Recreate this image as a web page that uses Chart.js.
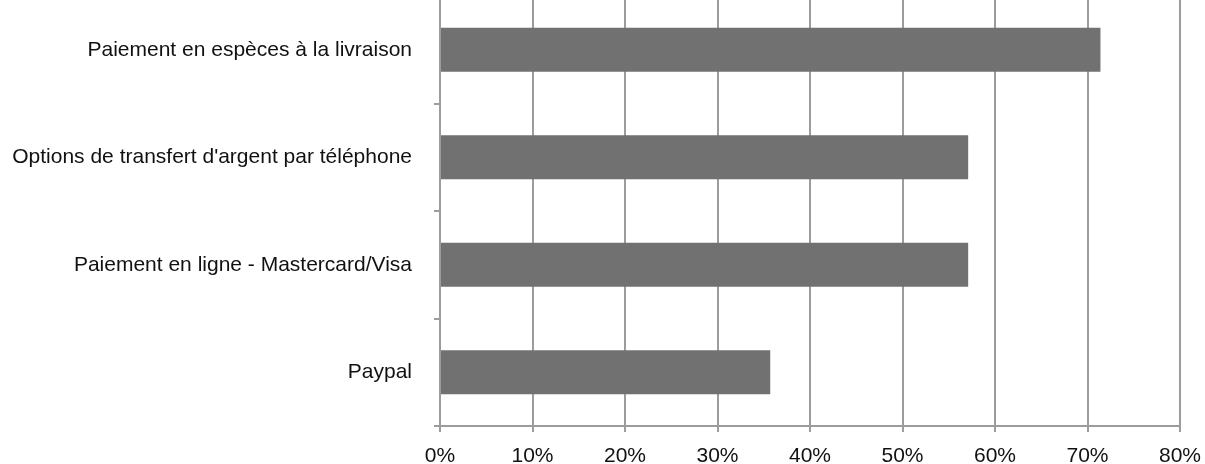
<!DOCTYPE html>
<html>
<head>
<meta charset="utf-8">
<script src="https://cdn.jsdelivr.net/npm/chart.js@4/dist/chart.umd.min.js"></script>
<style>
    html, body { margin: 0; padding: 0; background: #fff; overflow: hidden; }
    #wrap { position: relative; width: 1205px; height: 468px; margin-top: -4px; }
</style>
</head>
<body>
<div id="wrap"><canvas id="chart"></canvas></div>
<script>
// Données
const categories = [
    'Paiement en espèces à la livraison',
    "Options de transfert d'argent par téléphone",
    'Paiement en ligne - Mastercard/Visa',
    'Paypal'
];
const values = [71.4, 57.1, 57.1, 35.7];
const xTicks = [0, 10, 20, 30, 40, 50, 60, 70, 80];

const gridColor = '#9c9c9c';
const barColor = '#717171';
const labelFont = { family: '"Liberation Sans", Arial, sans-serif', size: 21 };

const canvas = document.getElementById('chart');
new Chart(canvas, {
    type: 'bar',
    data: {
        labels: categories,
        datasets: [{
            data: values,
            backgroundColor: barColor,
            categoryPercentage: 1,
            barPercentage: 0.41
        }]
    },
    options: {
        indexAxis: 'y',
        responsive: true,
        maintainAspectRatio: false,
        animation: false,
        layout: { padding: { left: 0, right: 25, top: 0, bottom: 0 } },
        plugins: {
            legend: { display: false },
            tooltip: { enabled: false }
        },
        scales: {
            x: {
                min: xTicks[0],
                max: xTicks[xTicks.length - 1],
                afterBuildTicks: (scale) => {
                    scale.ticks = xTicks.map(v => ({ value: v }));
                },
                ticks: {
                    callback: (v) => v + '%',
                    color: '#111',
                    font: labelFont,
                    padding: 12,
                    maxRotation: 0
                },
                grid: {
                    color: gridColor,
                    lineWidth: 2,
                    tickLength: 6,
                    tickColor: gridColor
                },
                border: { color: gridColor, width: 2 },
                afterFit: (scale) => {
                    scale.height = 38;
                    scale.paddingLeft = 0;
                    scale.paddingRight = 0;
                }
            },
            y: {
                ticks: {
                    color: '#111',
                    font: labelFont,
                    padding: 22
                },
                grid: {
                    offset: true,
                    drawOnChartArea: false,
                    color: gridColor,
                    lineWidth: 2,
                    tickLength: 6
                },
                border: { color: gridColor, width: 2 },
                afterFit: (scale) => {
                    scale.width = 440;
                    scale.paddingTop = 0;
                    scale.paddingBottom = 0;
                }
            }
        }
    }
});
</script>
</body>
</html>
